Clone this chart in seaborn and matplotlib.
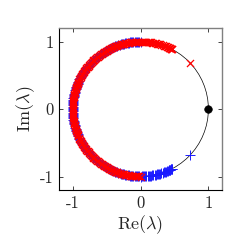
import numpy as np
import pandas as pd
import seaborn as sns
import matplotlib.pyplot as plt
from matplotlib.patches import Circle

# eigenvalue angles on the unit circle (degrees)
red_deg = [43,
           62, 62.5, 63, 63.5, 64, 64.5, 65, 65.5, 66, 67, 68, 69, 70, 71, 72, 73, 74, 75,
           76, 77, 78, 79, 80, 81, 82, 83, 84, 85, 86, 87, 88, 89, 90, 91, 92, 93, 94, 95,
           96, 97, 98, 99, 100, 101, 102, 103, 104, 105, 106, 107, 108, 109, 110, 111,
           112, 113, 114, 115, 116, 117, 118, 119, 120, 121, 122, 123, 124, 125, 126,
           127, 128, 129, 130, 131, 132, 133, 134, 135, 136, 137, 138, 139, 140, 141,
           142, 143, 144, 145, 146, 147, 148, 149, 150, 151, 152, 153, 154, 155, 156,
           157, 158, 159, 160, 161, 162, 163, 164, 165, 166, 167, 168, 169, 170, 171,
           172, 173, 174, 175, 176, 177, 178, 179, 180, 181, 182, 183, 184, 185, 186,
           187, 188, 189, 190, 191, 192, 193, 194, 195, 196, 197, 198, 199, 200, 201,
           202, 203, 204, 205, 206, 207, 208, 209, 210, 211, 212, 213, 214, 215, 216,
           217, 218, 219, 220, 221, 222, 223, 224, 225, 226, 227, 228, 229, 230, 231,
           232, 233, 234, 235, 236, 237, 238, 239, 240, 241, 242, 243, 244, 245, 246,
           247, 248, 249, 250, 251, 252, 253, 254, 255, 256, 257, 258, 259, 260, 261,
           262, 263, 264, 265, 266, 267, 268, 269, 270]
blue_deg = [-43,
            -62, -62.5, -63, -63.5, -64, -64.5, -65, -65.5, -66, -67, -68, -69, -70, -71,
            -72, -73, -74, -75, -76, -77, -78, -79, -80, -81, -82, -83, -84, -85, -86,
            -87, -88, -89, -90, -91, -92, -93, -94, -95, -96, -97, -98, -99, -100, -101,
            -102, -103, -104, -105, -106, -107, -108, -109, -110, -111, -112, -113, -114,
            -115, -116, -117, -118, -119, -120, -121, -122, -123, -124, -125, -126, -127,
            -128, -129, -130, -131, -132, -133, -134, -135, -136, -137, -138, -139, -140,
            -141, -142, -143, -144, -145, -146, -147, -148, -149, -150, -151, -152, -153,
            -154, -155, -156, -157, -158, -159, -160, -161, -162, -163, -164, -165, -166,
            -167, -168, -169, -170, -171, -172, -173, -174, -175, -176, -177, -178, -179,
            -180, -181, -182, -183, -184, -185, -186, -187, -188, -189, -190, -191, -192,
            -193, -194, -195, -196, -197, -198, -199, -200, -201, -202, -203, -204, -205,
            -206, -207, -208, -209, -210, -211, -212, -213, -214, -215, -216, -217, -218,
            -219, -220, -221, -222, -223, -224, -225, -226, -227, -228, -229, -230, -231,
            -232, -233, -234, -235, -236, -237, -238, -239, -240, -241, -242, -243, -244,
            -245, -246, -247, -248, -249, -250, -251, -252, -253, -254, -255, -256, -257,
            -258, -259, -260, -261, -262, -263, -264, -265, -266, -267, -268, -269, -270]
fixed_re = [1.0]
fixed_im = [0.0]
ticks = [-1, 0, 1]

red = pd.DataFrame({'re': np.cos(np.radians(red_deg)), 'im': np.sin(np.radians(red_deg))})
blue = pd.DataFrame({'re': np.cos(np.radians(blue_deg)), 'im': np.sin(np.radians(blue_deg))})

sns.set_style('ticks')
plt.rcParams['font.family'] = ['cmr10', 'DejaVu Serif']
plt.rcParams['mathtext.fontset'] = 'cm'
plt.rcParams['axes.unicode_minus'] = False
plt.rcParams['axes.formatter.use_mathtext'] = True

fig = plt.figure(figsize=(2.45, 2.45), dpi=100)
ax = fig.add_axes([0.241, 0.2245, 0.665, 0.661])

ax.add_patch(Circle((0, 0), 1, fill=False, color='k', lw=0.5))
sns.scatterplot(data=blue, x='re', y='im', marker='+', color='#1a1aff', s=50,
                linewidth=0.7, ax=ax, zorder=3)
sns.scatterplot(data=red, x='re', y='im', marker='x', color='#ff0000', s=26,
                linewidth=0.9, ax=ax, zorder=4)
sns.scatterplot(x=fixed_re, y=fixed_im, color='k', s=30, edgecolor='k', ax=ax, zorder=5)

ax.set_xlim(-1.2, 1.2)
ax.set_ylim(-1.2, 1.2)
ax.set_xticks(ticks)
ax.set_yticks(ticks)
ax.set_xticklabels(['-1', '0', '1'])
ax.set_yticklabels(['-1', '0', '1'])
ax.tick_params(direction='in', length=3, width=0.6, top=True, right=True,
               labelsize=12, colors='#262626', pad=4)
for s in ['left', 'bottom']:
    ax.spines[s].set_color('#000000')
    ax.spines[s].set_linewidth(0.8)
for s in ['top', 'right']:
    ax.spines[s].set_color('#808080')
    ax.spines[s].set_linewidth(1.0)

ax.set_xlabel(r'$\mathrm{Re}(\lambda)$', fontsize=13, labelpad=2)
ax.set_ylabel(r'$\mathrm{Im}(\lambda)$', fontsize=13, labelpad=2)

fig.savefig('out.png', dpi=100)
